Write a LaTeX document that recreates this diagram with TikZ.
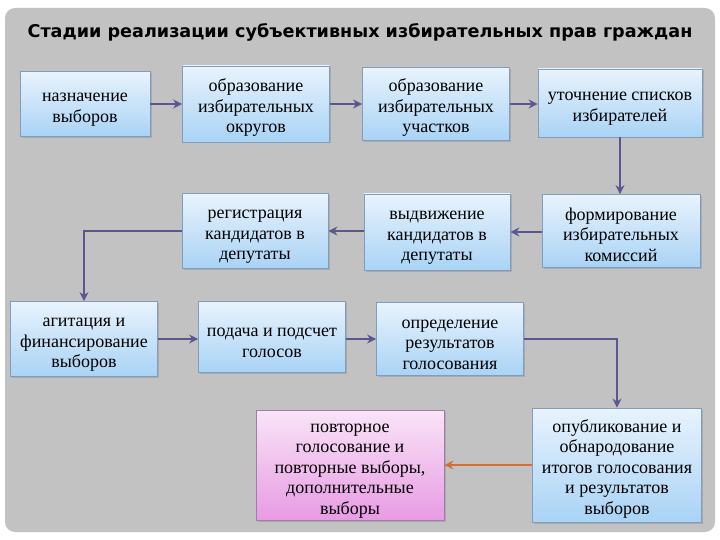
\documentclass[tikz,border=0pt]{standalone}
\usepackage{fontspec}
\setmainfont{Liberation Serif}
\newfontfamily\titlefont{DejaVu Sans}
\usetikzlibrary{arrows.meta,shadows}
\definecolor{fonseryi}{HTML}{C2C2C2}
\definecolor{ramka}{HTML}{7F9DBD}
\definecolor{goluboiverh}{HTML}{E8F3FD}
\definecolor{goluboiniz}{HTML}{A9D3F5}
\definecolor{rozovyiverh}{HTML}{F9E4F7}
\definecolor{rozovyiniz}{HTML}{E89BE4}
\definecolor{rozramka}{HTML}{9C7FA8}
\definecolor{strelka}{HTML}{5A5690}
\definecolor{oranzh}{HTML}{D2703C}
\newcommand{\verh}{\rule{0pt}{20pt}}
\tikzset{
  box/.style={draw=ramka,line width=0.8pt,top color=goluboiverh,bottom color=goluboiniz,
    align=center,inner sep=2pt,font=\fontsize{18}{20.5}\selectfont,
    drop shadow={shadow xshift=1.5pt,shadow yshift=-1.5pt,opacity=0.35}},
  pinkbox/.style={box,draw=rozramka,top color=rozovyiverh,bottom color=rozovyiniz},
  arr/.style={strelka,line width=2.6pt,-{Stealth[length=9pt,width=9pt]}},
  arrorange/.style={arr,oranzh}
}
\begin{document}
\begin{tikzpicture}[x=1pt,y=-1pt]
\useasboundingbox (0,0) rectangle (720,540);
\fill[fonseryi,rounded corners=10pt] (5,8) rectangle (715,532);
\node (title) at (360,32) {\titlefont\bfseries\fontsize{17.6}{21}\selectfont Стадии реализации субъективных избирательных прав граждан};
% first row
\node[box,minimum width=130pt,minimum height=65pt] (nazn) at (85,104) {\verh назначение\\выборов};
\node[box,minimum width=147pt,minimum height=76pt] (okrug) at (256,104) {\verh образование\\избирательных\\округов};
\node[box,minimum width=147pt,minimum height=73pt] (uchast) at (436,104) {\verh образование\\избирательных\\участков};
\node[box,minimum width=164pt,minimum height=68pt] (spisok) at (620,103) {\verh уточнение списков\\избирателей};
% second row
\node[box,minimum width=158pt,minimum height=73pt] (komis) at (621,231) {\verh формирование\\избирательных\\комиссий};
\node[box,minimum width=146pt,minimum height=76pt] (vydv) at (437,232) {\verh выдвижение\\кандидатов в\\депутаты};
\node[box,minimum width=146pt,minimum height=75pt] (regis) at (255,231) {\verh регистрация\\кандидатов в\\депутаты};
% third row
\node[box,minimum width=147pt,minimum height=75pt] (agit) at (84,339) {\verh агитация и\\финансирование\\выборов};
\node[box,minimum width=147pt,minimum height=71pt] (podacha) at (272,337) {\verh подача и подсчет\\голосов};
\node[box,minimum width=147pt,minimum height=73pt] (opred) at (450,339) {\verh определение\\результатов\\голосования};
% fourth row
\node[pinkbox,minimum width=188pt,minimum height=110pt] (povtor) at (350,465) {\verh повторное\\голосование и\\повторные выборы,\\дополнительные\\выборы};
\node[box,minimum width=169pt,minimum height=114pt] (opubl) at (617,465) {\verh опубликование и\\обнародование\\итогов голосования\\и результатов\\выборов};
% arrows
\draw[arr] (nazn) -- (okrug);
\draw[arr] (okrug) -- (uchast);
\draw[arr] (uchast) -- (spisok.west |- uchast);
\draw[arr] (spisok.south) -- (spisok.south |- komis.north);
\draw[arr] (komis.west |- vydv) -- (vydv);
\draw[arr] (vydv.west |- regis) -- (regis);
\draw[arr] (regis.west) -| (agit.north);
\draw[arr] (agit) -- (podacha.west |- agit);
\draw[arr] (podacha.east |- opred) -- (opred);
\draw[arr] (opred.east) -| (opubl.north);
\draw[arrorange] (opubl) -- (povtor);
\end{tikzpicture}
\end{document}
